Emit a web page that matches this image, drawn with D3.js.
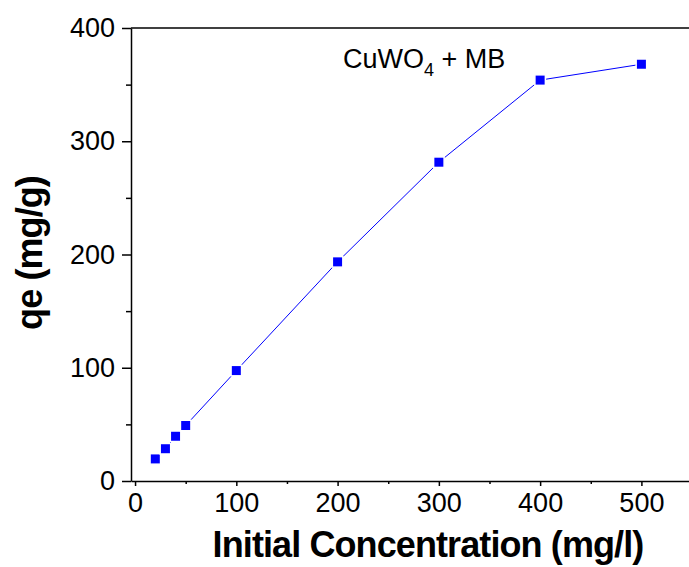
<!DOCTYPE html>
<html>
<head>
<meta charset="utf-8">
<script src="https://cdn.jsdelivr.net/npm/d3@7"></script>
<style>
  body { margin: 0; background: #fff; }
  text { font-family: "Liberation Sans", Arial, sans-serif; }
</style>
</head>
<body>
<svg id="chart"></svg>
<script>
// data
const concentrations = [20, 30, 40, 50, 100, 200, 300, 400, 500];
const qeValues = [19.5, 28.5, 39.5, 49, 97.5, 193.5, 281.5, 354, 368];
const xTicks = [0, 100, 200, 300, 400, 500];
const yTicks = [0, 100, 200, 300, 400];

const W = 689, H = 567;
const plotLeft = 131, plotTop = 28, plotBottom = 481;

const svg = d3.select("#chart")
  .attr("width", W)
  .attr("height", H);

// scales
const x = d3.scaleLinear().domain([-4, 547]).range([plotLeft, W]);
const y = d3.scaleLinear().domain([0, 400]).range([plotBottom, plotTop]);

// minor ticks
const xMinor = d3.range(50, 550, 100);
const yMinor = d3.range(50, 400, 100);

// x axis
const gx = svg.append("g").attr("transform", `translate(0,${plotBottom})`);
gx.call(d3.axisBottom(x).tickValues(xTicks).tickSize(5).tickSizeOuter(0).tickPadding(7));
gx.append("g").call(d3.axisBottom(x).tickValues(xMinor).tickSize(3).tickSizeOuter(0).tickFormat(""))
  .select(".domain").remove();
gx.selectAll("text").attr("font-size", 27).attr("fill", "#000")
  .style("font-family", "'Liberation Sans', Arial, sans-serif");
gx.selectAll("line, path").attr("stroke", "#000").attr("stroke-width", 1.5);

// y axis
const gy = svg.append("g").attr("transform", `translate(${plotLeft},0)`);
gy.call(d3.axisLeft(y).tickValues(yTicks).tickSize(9).tickSizeOuter(0).tickPadding(7));
gy.append("g").call(d3.axisLeft(y).tickValues(yMinor).tickSize(5).tickSizeOuter(0).tickFormat(""))
  .select(".domain").remove();
gy.selectAll("text").attr("font-size", 27).attr("fill", "#000")
  .style("font-family", "'Liberation Sans', Arial, sans-serif");
gy.selectAll("line, path").attr("stroke", "#000").attr("stroke-width", 1.5);

// top frame line
svg.append("line")
  .attr("x1", plotLeft).attr("x2", W)
  .attr("y1", plotTop).attr("y2", plotTop)
  .attr("stroke", "#000").attr("stroke-width", 1.5);

// series line
const line = d3.line()
  .x((d, i) => x(concentrations[i]))
  .y(d => y(d));

svg.append("path")
  .datum(qeValues)
  .attr("fill", "none")
  .attr("stroke", "#0000ff")
  .attr("stroke-width", 1)
  .attr("d", line);

// square markers
const ms = 10.5;
svg.selectAll(".pt")
  .data(qeValues)
  .enter().append("rect")
  .attr("class", "pt")
  .attr("x", (d, i) => x(concentrations[i]) - ms / 2)
  .attr("y", d => y(d) - ms / 2)
  .attr("width", ms)
  .attr("height", ms)
  .attr("fill", "#0000ff")
  .attr("stroke", "#fff")
  .attr("stroke-width", 1.5);

// annotation
const note = svg.append("text")
  .attr("x", 343)
  .attr("y", 68)
  .attr("font-size", 27)
  .attr("fill", "#000");
note.append("tspan").text("CuWO");
note.append("tspan").attr("font-size", 18).attr("dy", 8).text("4");
note.append("tspan").attr("dy", -8).text(" + MB");

// axis titles
svg.append("text")
  .attr("x", 428)
  .attr("y", 557)
  .attr("text-anchor", "middle")
  .attr("font-size", 36)
  .attr("font-weight", "bold")
  .attr("letter-spacing", -0.9)
  .attr("fill", "#000")
  .text("Initial Concentration (mg/l)");

svg.append("text")
  .attr("transform", "translate(42,253) rotate(-90)")
  .attr("text-anchor", "middle")
  .attr("font-size", 36)
  .attr("font-weight", "bold")
  .attr("letter-spacing", -0.9)
  .attr("fill", "#000")
  .text("qe (mg/g)");
</script>
</body>
</html>
